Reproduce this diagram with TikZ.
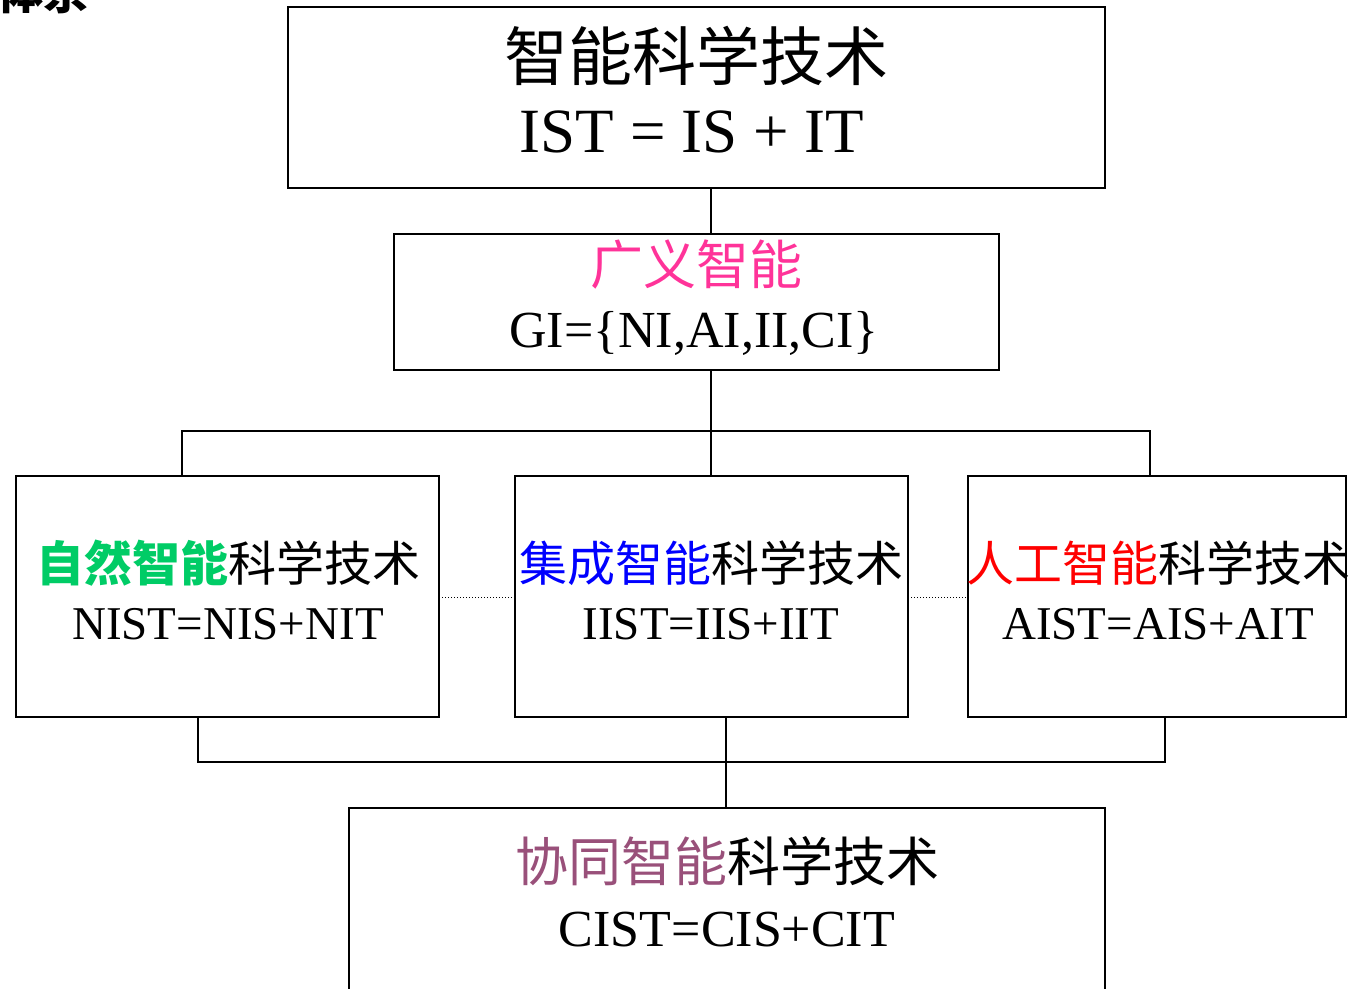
\documentclass[tikz,border=0pt]{standalone}
\usepackage{fontspec}
\setmainfont{Liberation Serif}
\newfontfamily\cjk{Noto Sans CJK SC}
\definecolor{gipink}{HTML}{FF3399}
\definecolor{nigreen}{HTML}{00CC66}
\definecolor{iiblue}{HTML}{0000FF}
\definecolor{aired}{HTML}{FF0000}
\definecolor{cipurple}{HTML}{99507A}
\tikzset{
  box/.style={draw=black, line width=1.6pt},
  link/.style={draw=black, line width=1.6pt},
  dotlink/.style={draw=black, line width=1pt, dotted},
  txt/.style={anchor=base, inner sep=0pt, outer sep=0pt},
}
\begin{document}
\begin{tikzpicture}[x=1pt,y=-1pt]
\useasboundingbox (0,0) rectangle (1352,988);
\begin{scope}
\clip (0,0) rectangle (1352,988);
\node[txt, anchor=base west] (title) at (-2,9) {\fontsize{46}{46}\selectfont\cjk\bfseries 体系};
% boxes
\draw[box] (288,7) rectangle (1105,188);
\coordinate (top-s) at (711,188);
\draw[box] (394,234) rectangle (999,370);
\coordinate (gi-n) at (711,234);
\coordinate (gi-s) at (711,370);
\draw[box] (16,476) rectangle (439,717);
\draw[box] (515,476) rectangle (908,717);
\draw[box] (968,476) rectangle (1346,717);
\draw[box] (349,1000) -- (349,808) -- (1105,808) -- (1105,1000);
% texts
\node[txt] (t1) at (696,80) {\fontsize{64}{64}\selectfont\cjk 智能科学技术};
\node[txt] (t2) at (692,152) {\fontsize{63}{63}\selectfont IST = IS + IT};
\node[txt] (g1) at (696,284) {\fontsize{53}{53}\selectfont\cjk\color{gipink}广义智能};
\node[txt] (g2) at (694,347) {\fontsize{52}{52}\selectfont GI=\{NI,AI,II,CI\}};
\node[txt] (n1) at (228,581) {\fontsize{48}{48}\selectfont\cjk{\bfseries\color{nigreen}自然智能}科学技术};
\node[txt] (n2) at (228,639) {\fontsize{47}{47}\selectfont NIST=NIS+NIT};
\node[txt] (i1) at (711,581) {\fontsize{48}{48}\selectfont\cjk{\color{iiblue}集成智能}科学技术};
\node[txt] (i2) at (711,639) {\fontsize{47}{47}\selectfont IIST=IIS+IIT};
\node[txt] (a1) at (1158,581) {\fontsize{48}{48}\selectfont\cjk{\color{aired}人工智能}科学技术};
\node[txt] (a2) at (1158,639) {\fontsize{47}{47}\selectfont AIST=AIS+AIT};
\node[txt] (c1) at (727,881) {\fontsize{53}{53}\selectfont\cjk{\color{cipurple}协同智能}科学技术};
\node[txt] (c2) at (727,946) {\fontsize{52}{52}\selectfont CIST=CIS+CIT};
% connectors
\draw[link] (top-s) -- (gi-n);
\coordinate (hub) at (711,431);
\coordinate (hl) at (182,431);
\coordinate (hr) at (1150,431);
\coordinate (nl) at (182,476);
\coordinate (nr) at (1150,476);
\coordinate (im) at (711,476);
\draw[link] (gi-s) -- (im);
\draw[link] (nl) -- (hl) -- (hr) -- (nr);
\coordinate (bl1) at (198,717);
\coordinate (bl2) at (198,762);
\coordinate (br1) at (1165,717);
\coordinate (br2) at (1165,762);
\draw[link] (bl1) -- (bl2) -- (br2) -- (br1);
\coordinate (bm1) at (726,717);
\coordinate (bm2) at (726,808);
\draw[link] (bm1) -- (bm2);
\coordinate (d1) at (439,597);
\coordinate (d2) at (515,597);
\coordinate (d3) at (908,597);
\coordinate (d4) at (968,597);
\draw[dotlink] (d1) -- (d2);
\draw[dotlink] (d3) -- (d4);
\end{scope}
\end{tikzpicture}
\end{document}
